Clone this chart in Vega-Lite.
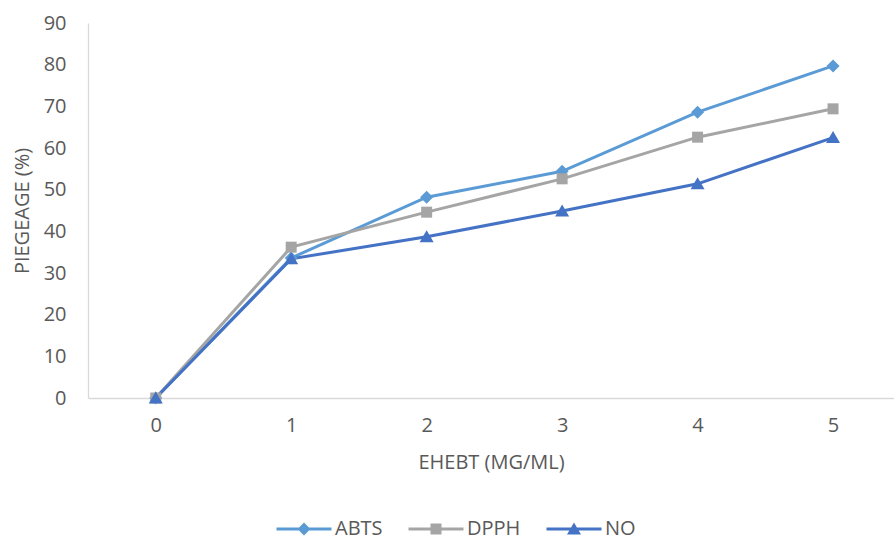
{
  "$schema": "https://vega.github.io/schema/vega-lite/v6.json",
  "autosize": {"type": "none"},
  "padding": {"left": 88, "top": 23, "right": 0, "bottom": 141},
  "width": 806,
  "height": 375,
  "background": "white",
  "config": {
    "view": {"stroke": null},
    "font": "Open Sans",
    "axis": {
      "domainColor": "#D9D9D9",
      "domainWidth": 1.3,
      "ticks": false,
      "grid": false,
      "labelColor": "#595959",
      "titleColor": "#595959",
      "labelFont": "Open Sans",
      "titleFont": "Open Sans",
      "titleFontWeight": "normal"
    },
    "legend": {
      "labelFont": "Open Sans",
      "labelColor": "#595959",
      "padding": 0
    }
  },
  "data": {
    "values": [
      {"x": 0, "series": "ABTS", "v": 0},
      {"x": 1, "series": "ABTS", "v": 33.6},
      {"x": 2, "series": "ABTS", "v": 48.2},
      {"x": 3, "series": "ABTS", "v": 54.4},
      {"x": 4, "series": "ABTS", "v": 68.6},
      {"x": 5, "series": "ABTS", "v": 79.7},
      {"x": 0, "series": "DPPH", "v": 0},
      {"x": 1, "series": "DPPH", "v": 36.2},
      {"x": 2, "series": "DPPH", "v": 44.6},
      {"x": 3, "series": "DPPH", "v": 52.6},
      {"x": 4, "series": "DPPH", "v": 62.6},
      {"x": 5, "series": "DPPH", "v": 69.4},
      {"x": 0, "series": "NO", "v": 0},
      {"x": 1, "series": "NO", "v": 33.4},
      {"x": 2, "series": "NO", "v": 38.7},
      {"x": 3, "series": "NO", "v": 44.9},
      {"x": 4, "series": "NO", "v": 51.4},
      {"x": 5, "series": "NO", "v": 62.5}
    ]
  },
  "encoding": {
    "x": {
      "field": "x",
      "type": "quantitative",
      "scale": {"domain": [-0.5, 5.45], "nice": false, "zero": false},
      "axis": {"values": [0, 1, 2, 3, 4, 5], "format": "d", "title": "EHEBT (MG/ML)", "labelPadding": 17, "titlePadding": 17, "labelFontSize": 20, "titleFontSize": 20}
    },
    "y": {
      "field": "v",
      "type": "quantitative",
      "scale": {"domain": [0, 90], "nice": false},
      "axis": {"values": [0, 10, 20, 30, 40, 50, 60, 70, 80, 90], "title": "PIEGEAGE (%)", "labelPadding": 22, "titlePadding": 11, "labelFontSize": 20, "titleFontSize": 20}
    },
    "color": {
      "field": "series",
      "type": "nominal",
      "scale": {"domain": ["ABTS", "DPPH", "NO"], "range": ["#5B9BD5", "#A5A5A5", "#4472C4"]},
      "legend": {
        "title": null,
        "orient": "none",
        "direction": "horizontal",
        "legendX": 206,
        "legendY": 496,
        "symbolSize": 400,
        "symbolStrokeWidth": 0,
        "labelOffset": 21,
        "labelFontSize": 20,
        "columnPadding": 25,
        "encode": {
          "symbols": {
            "update": {
              "shape": {"signal": "datum.value === 'ABTS' ? 'M-2.75,-0.15H2.75V0.15H-2.75Z M0,-0.65L0.65,0L0,0.65L-0.65,0Z' : datum.value === 'DPPH' ? 'M-2.75,-0.15H2.75V0.15H-2.75Z M-0.55,-0.55H0.55V0.55H-0.55Z' : 'M-2.75,-0.15H2.75V0.15H-2.75Z M0,-0.65L0.7,0.55H-0.7Z'"},
              "fill": {"scale": "color", "field": "value"},
              "fillOpacity": {"value": 1},
              "strokeWidth": {"value": 0}
            }
          }
        }
      }
    }
  },
  "layer": [
    {
      "mark": {"type": "line", "strokeWidth": 3},
      "encoding": {}
    },
    {
      "transform": [{"filter": "datum.series === 'ABTS'"}],
      "mark": {"type": "point", "filled": true, "opacity": 1, "size": 100, "shape": "M0,-1.3L1.3,0L0,1.3L-1.3,0Z"},
      "encoding": {}
    },
    {
      "transform": [{"filter": "datum.series === 'DPPH'"}],
      "mark": {"type": "point", "filled": true, "opacity": 1, "size": 100, "shape": "M-1.1,-1.1H1.1V1.1H-1.1Z"},
      "encoding": {}
    },
    {
      "transform": [{"filter": "datum.series === 'NO'"}],
      "mark": {"type": "point", "filled": true, "opacity": 1, "size": 100, "shape": "M0,-1.3L1.4,1.1H-1.4Z"},
      "encoding": {}
    }
  ]
}
